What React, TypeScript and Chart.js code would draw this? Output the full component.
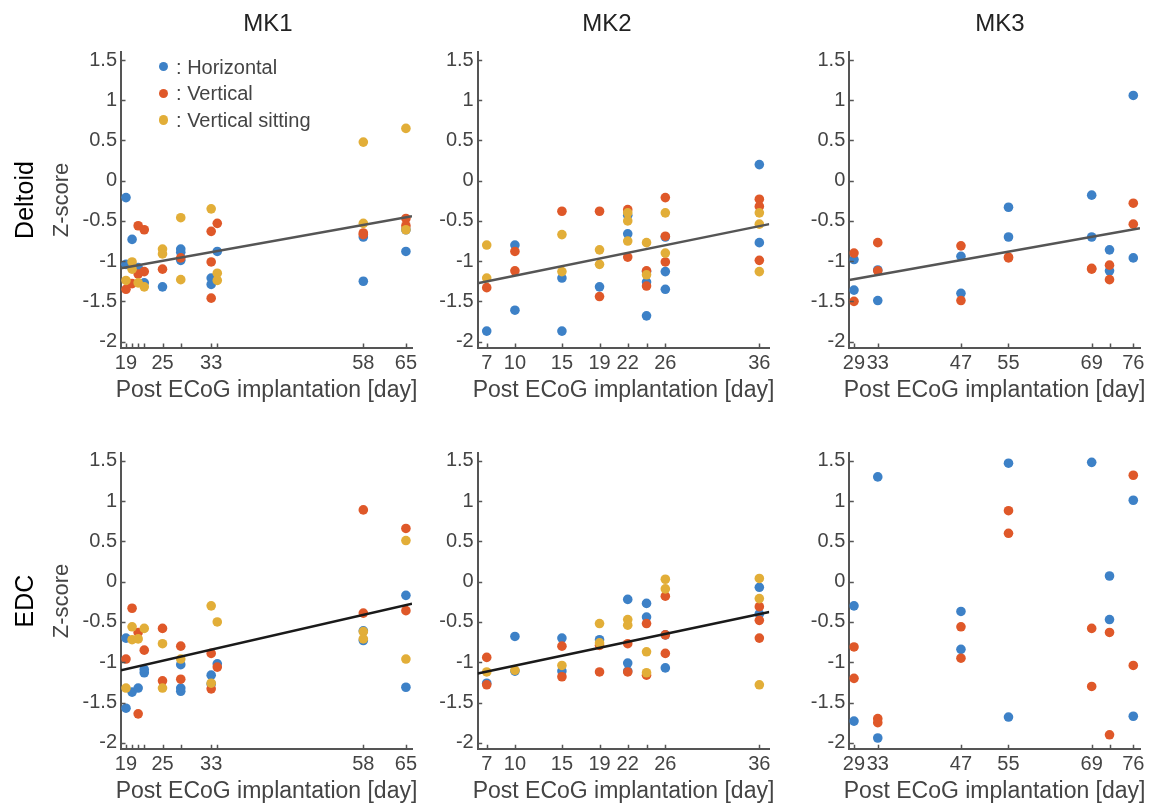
import React, { useEffect, useRef } from 'react';
import { Chart, registerables } from 'chart.js';
Chart.register(...registerables);

type P = [number, number];

// ---- categories / tick labels ----
const mk1Days = [19, 20, 21, 22, 25, 28, 33, 34, 58, 65];
const mk1DayLabels = [19, 25, 33, 58, 65];
const mk2Days = [7, 10, 15, 19, 22, 24, 26, 36];
const mk2DayLabels = [7, 10, 15, 19, 22, 26, 36];
const mk3Days = [29, 33, 47, 55, 69, 72, 76];
const mk3DayLabels = [29, 33, 47, 55, 69, 76];
const zTicks = [-2, -1.5, -1, -0.5, 0, 0.5, 1, 1.5];

const monkeys = ['MK1', 'MK2', 'MK3'];
const muscles = ['Deltoid', 'EDC'];
const postures = ['Horizontal', 'Vertical', 'Vertical sitting'];

// ---- Deltoid ----
const mk1DeltoidH: P[] = [[19,-0.21],[19,-1.04],[20,-0.73],[21,-1.08],[22,-1.27],[25,-1.32],[28,-0.85],[28,-0.89],[28,-0.99],[33,-1.21],[33,-1.29],[34,-0.88],[58,-0.70],[58,-1.25],[65,-0.61],[65,-0.88]];
const mk1DeltoidV: P[] = [[19,-1.35],[20,-1.28],[21,-0.56],[21,-1.16],[22,-0.61],[22,-1.13],[25,-1.10],[28,-0.96],[33,-0.63],[33,-1.01],[33,-1.46],[34,-0.53],[58,-0.65],[58,-0.67],[65,-0.47],[65,-0.56]];
const mk1DeltoidS: P[] = [[19,-1.24],[20,-1.01],[20,-1.10],[21,-1.27],[22,-1.32],[25,-0.85],[25,-0.91],[28,-0.46],[28,-1.23],[33,-0.35],[34,-1.15],[34,-1.24],[58,0.48],[58,-0.53],[65,0.65],[65,-0.61]];

const mk2DeltoidH: P[] = [[7,-1.87],[10,-0.80],[10,-1.61],[15,-1.21],[15,-1.87],[19,-1.32],[22,-0.43],[22,-0.66],[24,-1.13],[24,-1.26],[24,-1.68],[26,-0.70],[26,-1.13],[26,-1.35],[36,0.20],[36,-0.77]];
const mk2DeltoidV: P[] = [[7,-1.33],[10,-0.88],[10,-1.12],[15,-0.38],[19,-0.38],[19,-1.44],[22,-0.36],[22,-0.95],[24,-1.12],[24,-1.31],[26,-0.21],[26,-0.69],[26,-1.01],[36,-0.23],[36,-0.32],[36,-0.99]];
const mk2DeltoidS: P[] = [[7,-0.80],[7,-1.21],[15,-0.67],[15,-1.13],[19,-0.86],[19,-1.04],[22,-0.40],[22,-0.50],[22,-0.75],[24,-0.77],[24,-1.17],[26,-0.40],[26,-0.90],[36,-0.40],[36,-0.54],[36,-1.13]];

const mk3DeltoidH: P[] = [[29,-0.98],[29,-1.36],[33,-1.11],[33,-1.49],[47,-0.94],[47,-1.40],[55,-0.33],[55,-0.70],[69,-0.18],[69,-0.70],[72,-0.86],[72,-1.12],[76,1.06],[76,-0.96]];
const mk3DeltoidV: P[] = [[29,-0.90],[29,-1.50],[33,-0.77],[33,-1.12],[47,-0.81],[47,-1.49],[55,-0.95],[55,-0.96],[69,-1.09],[69,-1.10],[72,-1.05],[72,-1.23],[76,-0.28],[76,-0.54]];
const mk3DeltoidS: P[] = [];

// ---- EDC ----
const mk1EdcH: P[] = [[19,-0.70],[19,-1.57],[20,-1.37],[21,-1.32],[22,-1.09],[22,-1.13],[28,-1.03],[28,-1.32],[28,-1.36],[33,-1.16],[33,-1.27],[34,-1.02],[58,-0.61],[58,-0.73],[65,-0.17],[65,-1.31]];
const mk1EdcV: P[] = [[19,-0.96],[20,-0.33],[21,-0.63],[21,-1.64],[22,-0.85],[25,-0.58],[25,-1.23],[28,-0.80],[28,-1.21],[33,-0.89],[33,-1.33],[34,-1.06],[58,0.89],[58,-0.39],[65,0.66],[65,-0.36]];
const mk1EdcS: P[] = [[19,-1.32],[20,-0.56],[20,-0.72],[21,-0.71],[22,-0.58],[25,-0.77],[25,-1.32],[28,-0.96],[33,-0.30],[33,-1.26],[34,-0.50],[58,-0.62],[58,-0.71],[65,0.51],[65,-0.96]];

const mk2EdcH: P[] = [[7,-1.26],[10,-0.68],[10,-1.11],[15,-0.70],[15,-1.11],[19,-0.72],[22,-0.22],[22,-1.01],[22,-1.11],[24,-0.27],[24,-0.44],[26,-0.66],[26,-1.07],[36,-0.07],[36,-0.40]];
const mk2EdcV: P[] = [[7,-0.94],[7,-1.28],[15,-0.80],[15,-1.18],[19,-0.79],[19,-1.12],[22,-0.77],[22,-1.12],[24,-0.52],[24,-1.16],[26,-0.18],[26,-0.66],[26,-0.89],[36,-0.31],[36,-0.48],[36,-0.70]];
const mk2EdcS: P[] = [[7,-1.12],[10,-1.10],[15,-1.04],[19,-0.52],[19,-0.76],[22,-0.47],[22,-0.54],[24,-0.87],[24,-1.13],[26,0.03],[26,-0.09],[36,0.04],[36,-0.21],[36,-1.28]];

const mk3EdcH: P[] = [[29,-0.30],[29,-1.73],[33,1.30],[33,-1.94],[47,-0.37],[47,-0.84],[55,1.47],[55,-1.68],[69,1.48],[72,0.07],[72,-0.47],[76,1.01],[76,-1.67]];
const mk3EdcV: P[] = [[29,-0.81],[29,-1.20],[33,-1.70],[33,-1.75],[47,-0.56],[47,-0.95],[55,0.88],[55,0.60],[69,-0.58],[69,-1.30],[72,-0.63],[72,-1.90],[76,1.32],[76,-1.04]];
const mk3EdcS: P[] = [];

// ---- regression line endpoints ----
const mk1DeltoidFit: P[] = [[18.18,-1.09],[66,-0.443]];
const mk2DeltoidFit: P[] = [[6.04,-1.276],[37.06,-0.54]];
const mk3DeltoidFit: P[] = [[28.21,-1.234],[77.13,-0.59]];
const mk1EdcFit: P[] = [[18.18,-1.10],[66,-0.273]];
const mk2EdcFit: P[] = [[6.04,-1.139],[37.06,-0.377]];
const mk3EdcFit: P[] = [];

// ---- axis ranges ----
const xRanges: P[] = [[18.18, 66], [6.04, 37.06], [28.21, 77.13]];
const zRange: P = [-2.08, 1.6];

// ---- styling / layout ----
const COLORS = ['#3D81C7', '#DF5829', '#E2AE38'];
const FONT = '"Liberation Sans", Arial, Helvetica, sans-serif';
const AXIS = '#555555';
const TEXT = '#444444';

const colCells: P[] = [[0, 430], [430, 790], [790, 1153]];
const colAreas: P[] = [[121, 412], [477.7, 769.3], [849.3, 1140]];
const rowCells: P[] = [[0, 404], [404, 808]];
const rowAreas: P[] = [[52, 348], [452.7, 749.3]];

const inwardTicks = {
  id: 'inwardTicks',
  afterDraw(chart: any) {
    const { ctx, chartArea } = chart;
    const xs = chart.scales.x;
    const ys = chart.scales.y;
    ctx.save();
    ctx.strokeStyle = AXIS;
    ctx.lineWidth = 1.5;
    ctx.beginPath();
    xs.ticks.forEach((t: any) => {
      const px = Math.round(xs.getPixelForValue(t.value)) + 0.5;
      ctx.moveTo(px, chartArea.bottom);
      ctx.lineTo(px, chartArea.bottom - 4.5);
    });
    ys.ticks.forEach((t: any) => {
      const py = Math.round(ys.getPixelForValue(t.value)) + 0.5;
      ctx.moveTo(chartArea.left, py);
      ctx.lineTo(chartArea.left + 4.5, py);
    });
    ctx.stroke();
    ctx.restore();
  },
};

interface PanelCfg {
  col: number;
  row: number;
  days: number[];
  labels: number[];
  series: P[][];
  fit: P[];
  fitColor: string;
}

const panels: PanelCfg[] = [
  { col: 0, row: 0, days: mk1Days, labels: mk1DayLabels, series: [mk1DeltoidH, mk1DeltoidV, mk1DeltoidS], fit: mk1DeltoidFit, fitColor: '#555555' },
  { col: 1, row: 0, days: mk2Days, labels: mk2DayLabels, series: [mk2DeltoidH, mk2DeltoidV, mk2DeltoidS], fit: mk2DeltoidFit, fitColor: '#555555' },
  { col: 2, row: 0, days: mk3Days, labels: mk3DayLabels, series: [mk3DeltoidH, mk3DeltoidV, mk3DeltoidS], fit: mk3DeltoidFit, fitColor: '#555555' },
  { col: 0, row: 1, days: mk1Days, labels: mk1DayLabels, series: [mk1EdcH, mk1EdcV, mk1EdcS], fit: mk1EdcFit, fitColor: '#1a1a1a' },
  { col: 1, row: 1, days: mk2Days, labels: mk2DayLabels, series: [mk2EdcH, mk2EdcV, mk2EdcS], fit: mk2EdcFit, fitColor: '#1a1a1a' },
  { col: 2, row: 1, days: mk3Days, labels: mk3DayLabels, series: [mk3EdcH, mk3EdcV, mk3EdcS], fit: mk3EdcFit, fitColor: '#1a1a1a' },
];

function Panel({ cfg }: { cfg: PanelCfg }) {
  const ref = useRef<HTMLCanvasElement>(null);
  const [cl, cr] = colCells[cfg.col];
  const [al, ar] = colAreas[cfg.col];
  const [ct, cb] = rowCells[cfg.row];
  const [at, ab] = rowAreas[cfg.row];
  const w = cr - cl;
  const h = cb - ct;

  useEffect(() => {
    const tickFont = { family: FONT, size: 20 };
    const datasets: any[] = [];
    if (cfg.fit.length) {
      datasets.push({
        type: 'line',
        data: cfg.fit.map(([x, y]) => ({ x, y })),
        borderColor: cfg.fitColor,
        borderWidth: 2.5,
        pointRadius: 0,
        showLine: true,
        fill: false,
        order: 0,
      });
    }
    cfg.series.forEach((s, i) => {
      datasets.push({
        type: 'scatter',
        label: postures[i],
        data: s.map(([x, y]) => ({ x, y })),
        backgroundColor: COLORS[i],
        borderColor: COLORS[i],
        borderWidth: 0,
        pointRadius: 4.8,
        pointHoverRadius: 4.8,
        order: 3 - i,
      });
    });
    const chart = new Chart(ref.current!, {
      type: 'scatter',
      data: { datasets },
      options: {
        animation: false,
        responsive: false,
        devicePixelRatio: 1,
        events: [],
        layout: { padding: { top: at - ct, right: cr - ar, left: 0, bottom: 0 } },
        plugins: { legend: { display: false }, tooltip: { enabled: false } },
        scales: {
          x: {
            type: 'linear',
            position: 'bottom',
            min: xRanges[cfg.col][0],
            max: xRanges[cfg.col][1],
            afterBuildTicks: (s: any) => { s.ticks = cfg.days.map((v) => ({ value: v })); },
            afterFit: (s: any) => { s.height = cb - ab; },
            ticks: {
              autoSkip: false,
              maxRotation: 0,
              minRotation: 0,
              padding: 3,
              color: TEXT,
              font: tickFont,
              callback: (v: any) => (cfg.labels.includes(Number(v)) ? String(v) : ''),
            },
            grid: { display: true, drawOnChartArea: false, drawTicks: false },
            border: { display: true, color: AXIS, width: 2 },
          },
          y: {
            type: 'linear',
            position: 'left',
            min: zRange[0],
            max: zRange[1],
            afterBuildTicks: (s: any) => { s.ticks = zTicks.map((v) => ({ value: v })); },
            afterFit: (s: any) => { s.width = al - cl; },
            ticks: {
              autoSkip: false,
              padding: 4,
              color: TEXT,
              font: tickFont,
              callback: (v: any) => String(v),
            },
            grid: { display: true, drawOnChartArea: false, drawTicks: false },
            border: { display: true, color: AXIS, width: 2 },
          },
        },
      } as any,
      plugins: [inwardTicks],
    });
    return () => chart.destroy();
  }, []);

  return (
    <canvas
      ref={ref}
      width={w}
      height={h}
      style={{ position: 'absolute', left: cl, top: ct, width: w, height: h }}
    />
  );
}

const centered = (x: number, y: number, rot = false): React.CSSProperties => ({
  position: 'absolute',
  left: x,
  top: y,
  transform: `translate(-50%, -50%)${rot ? ' rotate(-90deg)' : ''}`,
  whiteSpace: 'nowrap',
  lineHeight: 1,
  fontFamily: FONT,
});

const titleX = [268, 607, 1000];
const xTitleY = [388.5, 789.5];

export default function App() {
  return (
    <div style={{ position: 'absolute', left: 0, top: 0, width: 1153, height: 808, background: '#fff', overflow: 'hidden' }}>
      {panels.map((p, i) => <Panel key={i} cfg={p} />)}
      {monkeys.map((m, i) => (
        <div key={m} style={{ ...centered(titleX[i], 23), fontSize: 24, color: '#222' }}>{m}</div>
      ))}
      {muscles.map((m, r) => (
        <div key={m} style={{ ...centered(24, (rowAreas[r][0] + rowAreas[r][1]) / 2, true), fontSize: 25, color: '#000' }}>{m}</div>
      ))}
      {muscles.map((m, r) => (
        <div key={m + 'z'} style={{ ...centered(61, (rowAreas[r][0] + rowAreas[r][1]) / 2, true), fontSize: 22, color: TEXT }}>Z-score</div>
      ))}
      {rowAreas.map((ra, r) =>
        colAreas.map((ca, c) => (
          <div key={`xt${r}${c}`} style={{ ...centered((ca[0] + ca[1]) / 2, xTitleY[r]), fontSize: 23, color: TEXT }}>
            Post ECoG implantation [day]
          </div>
        ))
      )}
      {postures.map((p, i) => (
        <React.Fragment key={p}>
          <div style={{ position: 'absolute', left: 163.3 - 4.8, top: 66.7 + i * 26.7 - 4.8, width: 9.6, height: 9.6, borderRadius: '50%', background: COLORS[i] }} />
          <div style={{ position: 'absolute', left: 176, top: 66.7 + i * 26.7, transform: 'translateY(-50%)', lineHeight: 1, fontFamily: FONT, fontSize: 20, color: TEXT, whiteSpace: 'nowrap' }}>
            : {p}
          </div>
        </React.Fragment>
      ))}
    </div>
  );
}
